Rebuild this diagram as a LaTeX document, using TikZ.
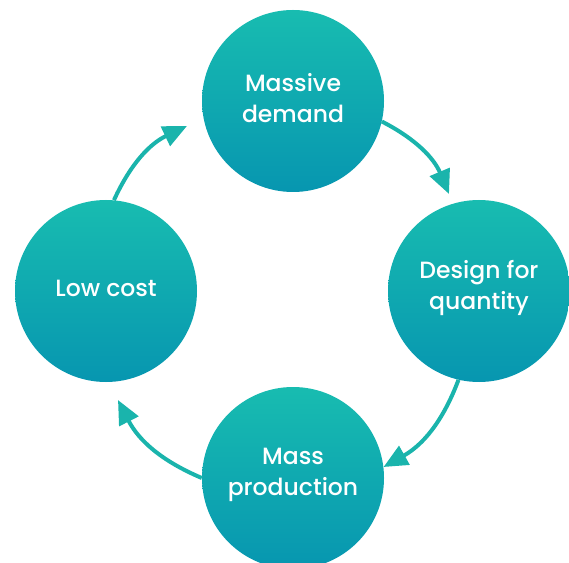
\documentclass[tikz,border=0pt]{standalone}
\usepackage{fontspec}
\setmainfont{Poppins}[UprightFont={* Medium}]
\usetikzlibrary{arrows.meta}
\definecolor{ctop}{HTML}{18BCB0}
\definecolor{cbot}{HTML}{0796B0}
\definecolor{arrc}{HTML}{1AB4AC}
\tikzset{
  stage/.style={circle, minimum size=182pt, inner sep=0pt, top color=ctop, bottom color=cbot},
  stagetext/.style={text=white, align=center, inner sep=0pt, font=\fontsize{23.5}{31}\selectfont},
  cyc/.style={line width=4pt, draw=arrc, -{Triangle[length=24pt,width=21pt]}, bend left=20}
}
\begin{document}
\begin{tikzpicture}[x=1pt,y=1pt]
\useasboundingbox (0,0) rectangle (569,562);
\node[stage] (T) at (293,461) {};
\node[stage] (R) at (479,271) {};
\node[stage] (B) at (293,84) {};
\node[stage] (L) at (106,271) {};
\node[stagetext] (Tt) at ([yshift=3pt]T.center) {Massive\\demand};
\node[stagetext] (Rt) at ([yshift=3pt]R.center) {Design for\\quantity};
\node[stagetext] (Bt) at ([yshift=3pt]B.center) {Mass\\production};
\node[stagetext] (Lt) at ([yshift=3pt]L.center) {Low cost};
\coordinate (t1) at (187,436);
\coordinate (t2) at (449,368);
\coordinate (t3) at (383.5,95);
\coordinate (t4) at (118,162);
\draw[cyc] (L.85) to (t1);
\draw[cyc] (T.-13) to (t2);
\draw[cyc] (R.257) to (t3);
\draw[cyc] (B.180) to (t4);
\end{tikzpicture}
\end{document}
